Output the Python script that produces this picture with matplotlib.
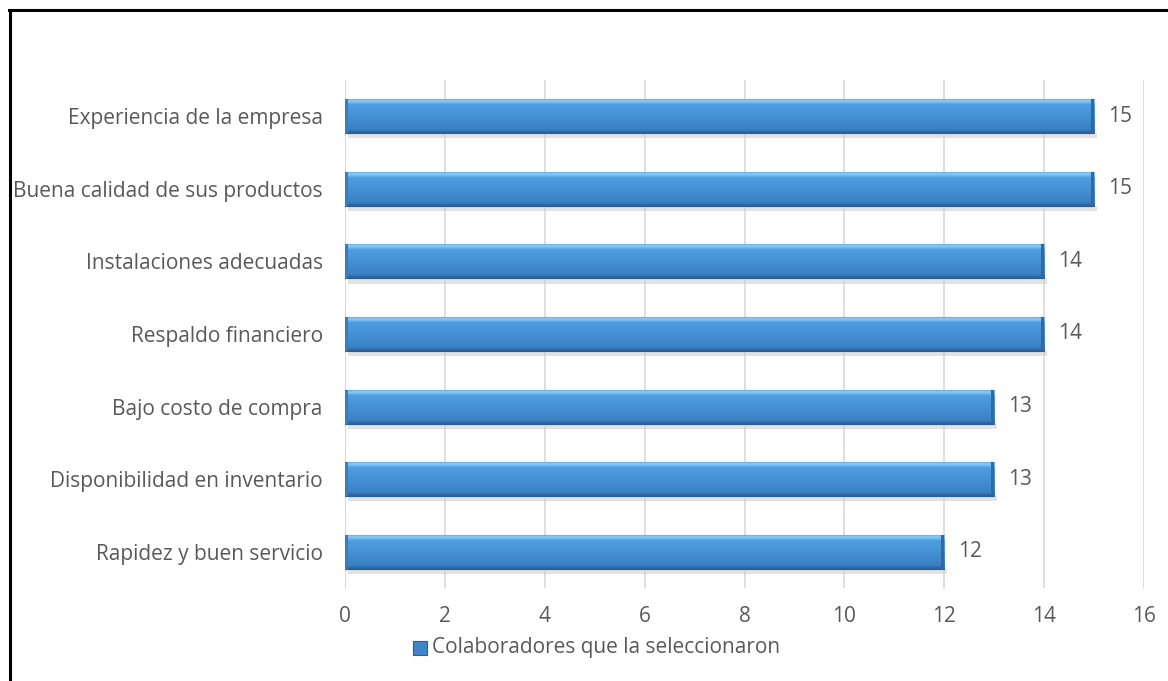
import matplotlib.pyplot as plt
import numpy as np
from matplotlib.patches import Rectangle
from matplotlib.lines import Line2D
from matplotlib.colors import LinearSegmentedColormap

plt.rcParams['font.family'] = ['Open Sans', 'DejaVu Sans']

categorias = ['Rapidez y buen servicio', 'Disponibilidad en inventario', 'Bajo costo de compra',
              'Respaldo financiero', 'Instalaciones adecuadas', 'Buena calidad de sus productos',
              'Experiencia de la empresa']
valores = [12, 13, 13, 14, 14, 15, 15]
serie = 'Colaboradores que la seleccionaron'
ticks_x = [0, 2, 4, 6, 8, 10, 12, 14, 16]

gris = '#595959'

fig = plt.figure(figsize=(11.68, 6.81), dpi=100)
ax = fig.add_axes([0.2954, 0.1366, 0.6841, 0.7459])

y = np.arange(len(categorias))
alto = 0.47

# sombra debajo de las barras
for yi, v in zip(y, valores):
    ax.add_patch(Rectangle((0.05, yi - alto / 2 - 0.07), v, 0.07, color='#d0d0d0',
                           alpha=0.6, lw=0, zorder=2))

barras = ax.barh(y, valores, height=alto, color='#4a96dc', edgecolor='#2a5f95',
                 linewidth=0.8, zorder=3)

# degradado vertical en cada barra
cmap = LinearSegmentedColormap.from_list('azul', [(0, '#2a5f95'), (0.1, '#3a80c2'),
                                                   (0.5, '#4592d6'), (0.82, '#4f9ee0'),
                                                   (0.92, '#8ccdf6'), (1, '#5aa5e0')])
g = np.linspace(0, 1, 100).reshape(-1, 1)
for b in barras:
    x0, y0 = b.get_x(), b.get_y()
    w, h = b.get_width(), b.get_height()
    im = ax.imshow(g, extent=[x0, x0 + w, y0, y0 + h], origin='lower', cmap=cmap,
                   aspect='auto', zorder=3.5)
    im.set_clip_path(b)
    # bordes biselados
    ax.add_patch(Rectangle((x0 + w - 0.06, y0), 0.06, h, color='#2f6aa6', lw=0, zorder=3.6))
    ax.add_patch(Rectangle((x0, y0), 0.05, h, color='#3b7cbb', lw=0, zorder=3.6))

for yi, v in zip(y, valores):
    ax.text(v + 0.28, yi, str(v), va='center', ha='left', fontsize=15, color=gris)

ax.set_xlim(0, 16)
ax.set_ylim(-0.5, len(categorias) - 0.5)
ax.set_xticks(ticks_x)
ax.set_yticks(y)
ax.set_yticklabels(categorias)
ax.tick_params(axis='both', length=0, labelsize=15, labelcolor=gris)
ax.tick_params(axis='x', pad=13)
ax.tick_params(axis='y', pad=16)
ax.grid(axis='x', color='#d9d9d9', linewidth=1.2, zorder=0)
ax.set_axisbelow(True)
for s in ax.spines.values():
    s.set_visible(False)
ax.axvline(0, color='#d9d9d9', linewidth=1.2, zorder=1)

# leyenda
fig.patches.append(Rectangle((413 / 1168, 1 - 655 / 681), 14 / 1168, 14 / 681,
                             transform=fig.transFigure, facecolor='#3f86c9',
                             edgecolor='#2a5f95', lw=0.8, figure=fig))
fig.text(432 / 1168, 1 - 648 / 681, serie, ha='left', va='center', fontsize=15, color=gris)

# marco
fig.add_artist(Line2D([9 / 1168, 1], [1 - 10 / 681, 1 - 10 / 681], color='black',
                      lw=2.2, transform=fig.transFigure))
fig.add_artist(Line2D([9.5 / 1168, 9.5 / 1168], [0, 1 - 10 / 681], color='black',
                      lw=2.2, transform=fig.transFigure))

fig.savefig('out.png', dpi=100, facecolor='white')
